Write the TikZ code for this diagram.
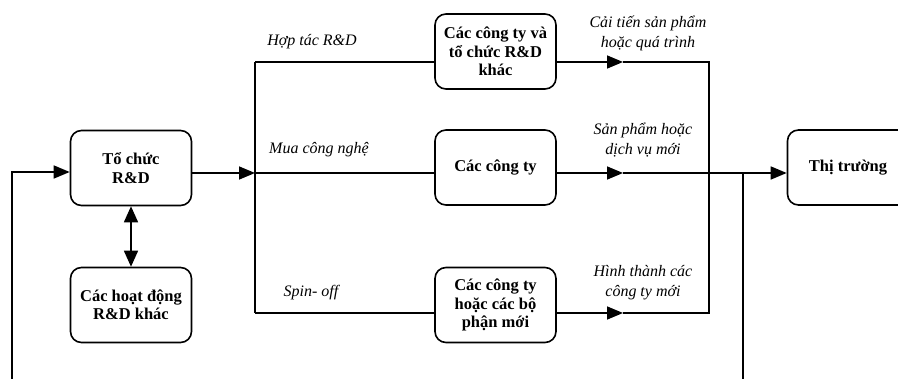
\documentclass[tikz,border=0pt]{standalone}
\usepackage{fontspec}
\setmainfont{Liberation Serif}
\usetikzlibrary{arrows.meta}
\tikzset{
  box/.style={draw, line width=1.6pt, rounded corners=11pt, minimum width=121pt, minimum height=75pt,
    align=center, inner sep=2pt, font=\bfseries\fontsize{16.5}{18.5}\selectfont},
  lbl/.style={align=center, inner sep=0pt, font=\itshape\fontsize{16}{20}\selectfont},
  ln/.style={line width=1.6pt},
  arr/.style={ln, -{Triangle[length=16pt,width=13pt]}},
  darr/.style={ln, {Triangle[length=16pt,width=14pt]}-{Triangle[length=16pt,width=14pt]}}
}
\begin{document}
\begin{tikzpicture}[x=1pt,y=-1pt]
\useasboundingbox (0,0) rectangle (898,379);
\clip (0,0) rectangle (898,379);
\node[box] (rd) at (131,168) {Tổ chức\\R\&D};
\node[box] (other) at (131,305) {Các hoạt động\\R\&D khác};
\node[box] (c1) at (495.5,51.5) {Các công ty và\\tổ chức R\&D\\khác};
\node[box] (c2) at (495.5,167.5) {Các công ty};
\node[box] (c3) at (495.5,305) {Các công ty\\hoặc các bộ\\phận mới};
\node[box] (mk) at (848,167.5) {Thị trường};

\coordinate (j) at (255,173);
\coordinate (top) at (255,62);
\coordinate (bot) at (255,313);
\coordinate (r1) at (709,62);
\coordinate (r3) at (709,313);
\coordinate (m1) at (623,62);
\coordinate (m2) at (623,173);
\coordinate (m3) at (623,313);
\coordinate (v) at (743,173);
\coordinate (vb) at (743,380);
\coordinate (lb) at (12,380);
\coordinate (lt) at (12,172);

\draw[arr] (rd.east |- j) -- (j);
\draw[ln] (top) -- (bot);
\draw[ln] (top) -- (c1.west |- top);
\draw[ln] (j) -- (c2.west |- j);
\draw[ln] (bot) -- (c3.west |- bot);

\draw[arr] (c1.east |- r1) -- (m1);
\draw[ln] (m1) -- (r1) -- (r3) -- (m3);
\draw[arr] (c3.east |- r3) -- (m3);
\draw[arr] (c2.east |- m2) -- (m2);
\draw[arr] (m2) -- (mk.west |- m2);
\draw[ln] (v) -- (vb);
\draw[arr] (lb) -- (lt) -- (rd.west |- lt);
\draw[darr] (rd.south) -- (other.north);

\node[lbl] (l1) at (312,42) {Hợp tác R\&D};
\node[lbl] (l2) at (319,150) {Mua công nghệ};
\node[lbl] (l3) at (311,293) {Spin- off};
\node[lbl] (l4) at (648,33) {Cải tiến sản phẩm\\hoặc quá trình};
\node[lbl] (l5) at (643,140) {Sản phẩm hoặc\\dịch vụ mới};
\node[lbl] (l6) at (643,283) {Hình thành các\\công ty mới};
\end{tikzpicture}
\end{document}
